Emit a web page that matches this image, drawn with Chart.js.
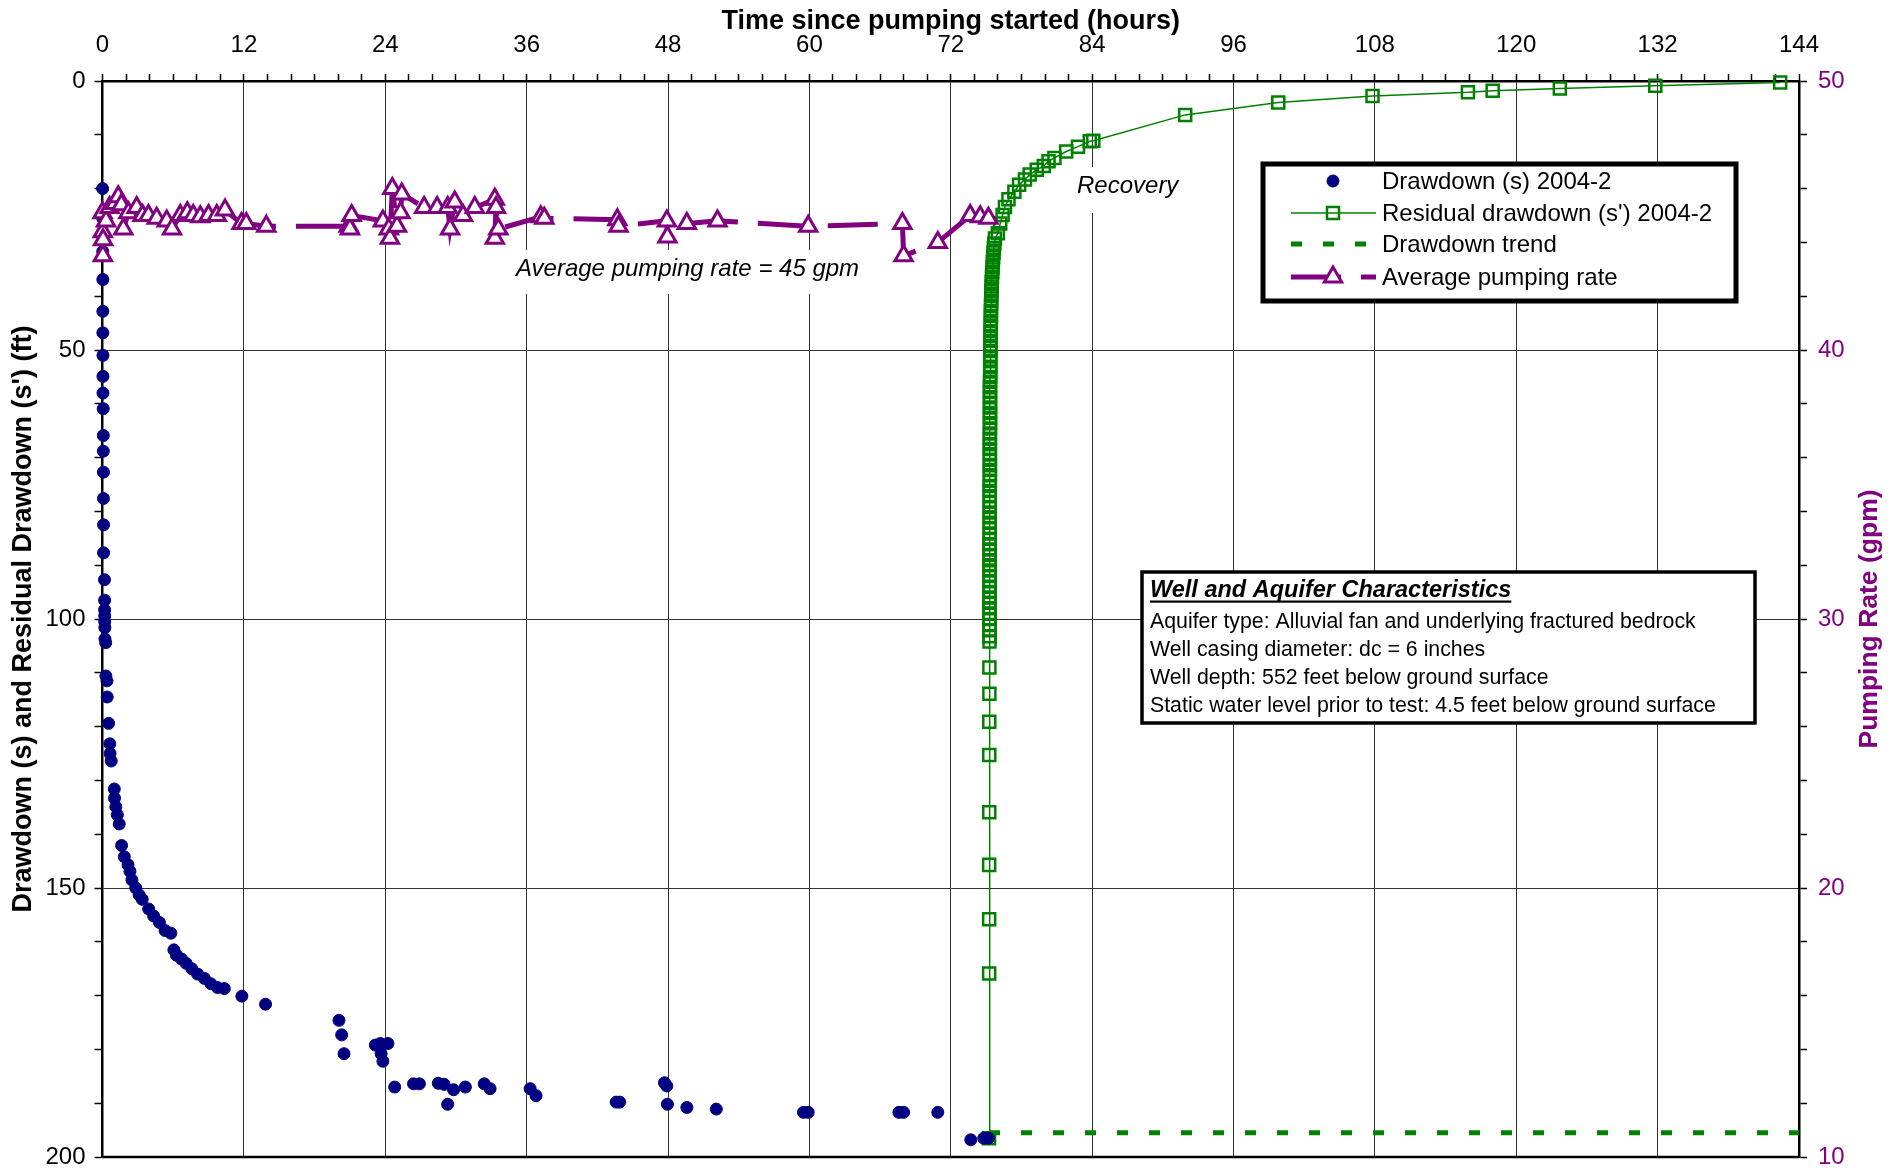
<!DOCTYPE html>
<html>
<head>
<meta charset="utf-8">
<title>Drawdown and recovery, well 2004-2</title>
<script src="https://cdn.jsdelivr.net/npm/chart.js@4.4.1/dist/chart.umd.min.js"></script>
<style>
  html, body { margin: 0; padding: 0; background: #fff; }
  #wrap { width: 1891px; height: 1171px; position: relative; }
</style>
</head>
<body>
<div id="wrap"><canvas id="chart" width="1891" height="1171"></canvas></div>
<script>
// ===== Data =====
// Drawdown (s) during pumping
const drawdownHours = [0.01, 0.02, 0.02, 0.03, 0.03, 0.03, 0.04, 0.04, 0.04, 0.06, 0.07, 0.07, 0.08, 0.08, 0.09, 0.09,
  0.17, 0.18, 0.18, 0.19, 0.19, 0.2, 0.21, 0.27, 0.29, 0.38, 0.4, 0.52, 0.62, 0.64, 0.74,
  1.0, 1.02, 1.13, 1.26, 1.42, 1.62, 1.85, 2.17, 2.33, 2.5, 2.82, 3.11, 3.37, 3.92, 4.34, 4.83, 5.31, 5.8, 6.06, 6.28,
  6.71, 7.1, 7.58, 8.07, 8.65, 9.2, 9.76, 10.34, 11.83, 13.84, 20.07, 20.3, 20.5, 23.16, 23.58, 23.65, 23.8, 24.23,
  24.8, 26.4, 26.9, 28.5, 29.0, 29.3, 29.8, 30.8, 32.4, 32.9, 36.3, 36.8, 43.6, 43.9, 47.7, 47.9, 47.95, 49.6, 52.1,
  59.5, 59.9, 67.6, 68.0, 70.9, 73.7, 74.8, 75.2];
const drawdownFeet = [20.0, 25.5, 31.7, 36.9, 42.8, 46.8, 51.0, 54.9, 58.0, 60.9, 65.9, 68.8, 72.7, 77.6, 82.5, 87.7,
  92.7, 96.5, 98.3, 99.4, 100.5, 101.6, 103.7, 104.4, 110.6, 111.5, 114.5, 119.4, 123.2, 125.0, 126.4,
  131.6, 133.3, 134.9, 136.4, 138.1, 142.1, 144.2, 145.7, 146.9, 148.5, 150.0, 151.3, 152.1, 153.9, 155.2, 156.4, 157.9,
  158.4, 161.5, 162.5, 163.2, 164.0, 165.0, 166.0, 166.8, 167.8, 168.5, 168.7, 170.1, 171.6, 174.6, 177.3, 180.8, 179.2,
  178.9, 180.8, 182.2, 178.9, 187.0, 186.4, 186.4, 186.3, 186.5, 190.2, 187.5, 187.0, 186.4, 187.3, 187.3, 188.6, 189.8,
  189.8, 186.2, 186.8, 190.2, 190.8, 191.1, 191.7, 191.7, 191.7, 191.7, 191.7, 196.8, 196.5, 196.5];

// Residual drawdown (s') during recovery
const residualHours = [75.25, 75.26, 75.26, 75.26, 75.27, 75.27, 75.27, 75.28, 75.28,
  75.29, 75.29, 75.29, 75.29, 75.29, 75.29, 75.29, 75.29, 75.29, 75.29,
  75.30, 75.30, 75.30, 75.30, 75.30, 75.30, 75.30, 75.30, 75.30, 75.30,
  75.31, 75.31, 75.31, 75.31, 75.31, 75.31, 75.31, 75.31, 75.31, 75.31,
  75.32, 75.32, 75.32, 75.32, 75.32, 75.32, 75.32, 75.32, 75.32, 75.32,
  75.33, 75.33, 75.33, 75.33, 75.33, 75.33, 75.33, 75.33, 75.33, 75.33,
  75.35, 75.35, 75.35, 75.35, 75.36, 75.36, 75.37, 75.37, 75.38, 75.38,
  75.40, 75.40, 75.41, 75.41, 75.42, 75.43, 75.44, 75.45, 75.47, 75.48,
  75.50, 75.52, 75.55, 75.57, 75.60, 75.63, 75.66, 75.70, 75.75,
  76.0, 76.2, 76.4, 76.6, 76.9, 77.4, 77.8, 78.3, 78.7, 79.3, 79.9, 80.3, 80.8, 81.8, 82.8, 83.8, 84.1,
  91.9, 99.8, 107.8, 115.9, 118.0, 123.7, 131.8, 142.4];
const residualFeet = [196.5, 165.9, 155.8, 145.7, 135.9, 125.3, 119.1, 113.9, 109.0,
  104.2, 103.2, 102.1, 101.1, 100.0, 99.0, 98.0, 97.0, 96.0, 95.0,
  94.0, 93.0, 92.0, 91.0, 90.0, 89.1, 88.1, 87.1, 86.1, 85.1,
  84.1, 83.1, 82.1, 81.1, 80.2, 79.2, 78.2, 77.2, 76.2, 75.3,
  74.3, 73.3, 72.3, 71.4, 70.4, 69.4, 68.4, 67.5, 66.5, 65.5,
  64.6, 63.6, 62.6, 61.7, 60.7, 59.8, 58.8, 57.8, 56.9, 55.9,
  55.0, 54.0, 53.1, 52.1, 51.2, 50.2, 49.3, 48.3, 47.4, 46.5,
  45.5, 44.6, 43.7, 42.8, 41.8, 40.9, 40.0, 39.1, 38.2, 37.3,
  36.4, 35.5, 34.6, 33.7, 32.8, 31.9, 31.1, 30.2, 29.3,
  28.3, 26.5, 24.9, 23.4, 22.0, 20.6, 19.3, 18.3, 17.4, 16.5, 15.8, 14.9, 14.3, 13.1, 12.2, 11.2, 11.1,
  6.3, 4.0, 2.8, 2.1, 1.8, 1.4, 0.9, 0.3];

// Drawdown trend
const trendHours = [75.25, 144];
const trendFeet = [195.5, 195.5];

// Average pumping rate (gpm)
const rateHours = [0.0, 0.02, 0.03, 0.05, 0.3, 0.6, 1.06, 1.34, 1.6, 1.77, 2.2, 2.9, 3.4, 3.9, 4.6, 5.45, 5.9, 6.6, 7.2,
  7.7, 8.3, 9.0, 9.7, 10.4, 11.8, 12.2, 13.9, 20.9, 21.0, 21.15, 23.8, 24.3, 24.4, 24.6, 25.0, 25.3, 25.4, 27.3, 28.4,
  29.3, 29.5, 29.9, 30.6, 31.6, 33.3, 33.3, 33.4, 33.6, 37.2, 37.5, 43.7, 43.8, 47.9, 47.95, 49.6, 52.2, 59.9, 67.9,
  68.0, 70.9, 73.65, 74.5, 75.2];
const rateGpm = [45.1, 44.4, 43.5, 44.1, 44.8, 45.3, 45.45, 45.7, 45.4, 44.5, 45.1, 45.3, 45.0, 45.0, 44.9, 44.8, 44.5,
  45.0, 45.1, 45.0, 44.95, 45.0, 45.0, 45.2, 44.7, 44.7, 44.6, 44.6, 44.5, 45.0, 44.8, 44.5, 44.15, 46.0, 44.6, 45.1,
  45.8, 45.3, 45.3, 45.3, 44.5, 45.5, 45.0, 45.3, 45.6, 44.15, 45.3, 44.5, 44.95, 44.9, 44.84, 44.6, 44.8, 44.2, 44.7,
  44.8, 44.6, 44.7, 43.5, 44.0, 45.0, 44.95, 44.9];

const infoLines = [
  'Aquifer type: Alluvial fan and underlying fractured bedrock',
  'Well casing diameter: dc = 6 inches',
  'Well depth: 552 feet below ground surface',
  'Static water level prior to test: 4.5 feet below ground surface'
];

// ===== Styles =====
const FONT = "'Liberation Sans', Arial, sans-serif";
const NAVY = '#000080';
const GREEN = '#008000';
const PURPLE = '#800080';

Chart.defaults.font.family = FONT;
Chart.defaults.color = '#000';

function toPoints(xs, ys) {
  return xs.map((x, i) => ({ x, y: ys[i] }));
}

// keep the plot frame where the reference has it (no label overhang padding)
function fixVertical(width) {
  return (s) => { s.width = width; s.paddingTop = 0; s.paddingBottom = 0; };
}

// ===== Overlay: annotations, frame, legend box, info box =====
function textWithBackground(ctx, text, x, baseline, top, bottom) {
  ctx.font = `italic 24px ${FONT}`;
  const w = ctx.measureText(text).width;
  ctx.fillStyle = '#fff';
  ctx.fillRect(x - 6, top, w + 12, bottom - top);
  ctx.fillStyle = '#000';
  ctx.textBaseline = 'alphabetic';
  ctx.fillText(text, x, baseline);
}

function drawLegendBox(chart) {
  const ctx = chart.ctx;
  const ds = chart.data.datasets;
  ctx.save();
  ctx.fillStyle = '#fff';
  ctx.fillRect(1263, 164, 473, 137);
  ctx.lineWidth = 5;
  ctx.strokeStyle = '#000';
  ctx.strokeRect(1263, 164, 473, 137);

  const rows = [181, 213, 244, 277];
  const order = [1, 2, 3, 0]; // drawdown, residual, trend, rate
  order.forEach((idx, r) => {
    const d = ds[idx];
    const y = rows[r];
    if (d.showLine) {
      ctx.save();
      ctx.beginPath();
      ctx.setLineDash(d.borderDash || []);
      ctx.lineWidth = d.borderWidth;
      ctx.strokeStyle = d.borderColor;
      ctx.moveTo(1291, y);
      ctx.lineTo(1376, y);
      ctx.stroke();
      ctx.restore();
    }
    if (d.pointRadius > 0) {
      ctx.save();
      ctx.setLineDash([]);
      ctx.fillStyle = d.pointBackgroundColor || d.backgroundColor;
      ctx.strokeStyle = d.pointBorderColor || d.borderColor;
      ctx.lineWidth = d.pointBorderWidth || 1;
      Chart.helpers.drawPoint(ctx, {
        pointStyle: d.pointStyle || 'circle',
        radius: d.pointRadius,
        borderWidth: d.pointBorderWidth || 1,
        rotation: 0
      }, 1333, y);
      ctx.restore();
    }
    ctx.fillStyle = '#000';
    ctx.font = `24px ${FONT}`;
    ctx.textBaseline = 'middle';
    ctx.fillText(d.label, 1382, y + 1);
  });
  ctx.restore();
}

function drawInfoBox(ctx) {
  ctx.save();
  ctx.fillStyle = '#fff';
  ctx.fillRect(1142, 572, 613, 151);
  ctx.lineWidth = 3.5;
  ctx.strokeStyle = '#000';
  ctx.strokeRect(1142, 572, 613, 151);

  ctx.fillStyle = '#000';
  ctx.textBaseline = 'alphabetic';
  ctx.font = `italic bold 23.5px ${FONT}`;
  const title = 'Well and Aquifer Characteristics';
  ctx.fillText(title, 1150, 597);
  const tw = ctx.measureText(title).width;
  ctx.fillRect(1150, 600.5, tw, 2.2);

  ctx.font = `21.3px ${FONT}`;
  const baselines = [628, 656, 684, 712];
  infoLines.forEach((line, i) => ctx.fillText(line, 1150, baselines[i]));
  ctx.restore();
}

// right-hand title reads bottom-to-top, like the left one
function drawRightTitle(chart) {
  const ctx = chart.ctx;
  const a = chart.chartArea;
  ctx.save();
  ctx.translate(1870, (a.top + a.bottom) / 2);
  ctx.rotate(-Math.PI / 2);
  ctx.font = `bold 26.5px ${FONT}`;
  ctx.fillStyle = PURPLE;
  ctx.textAlign = 'center';
  ctx.textBaseline = 'middle';
  ctx.fillText('Pumping Rate (gpm)', 0, 0);
  ctx.restore();
}

const overlayPlugin = {
  id: 'overlay',
  beforeDatasetsDraw(chart) {
    const ctx = chart.ctx;
    ctx.save();
    textWithBackground(ctx, 'Average pumping rate = 45 gpm', 516, 276, 250, 294);
    textWithBackground(ctx, 'Recovery', 1077, 193, 167, 213);
    ctx.restore();
  },
  afterDatasetsDraw(chart) {
    const ctx = chart.ctx;
    const a = chart.chartArea;
    ctx.save();
    ctx.strokeStyle = '#000';
    ctx.lineWidth = 2.5;
    ctx.beginPath();
    ctx.moveTo(a.left, a.bottom);
    ctx.lineTo(a.right, a.bottom);
    ctx.stroke();
    ctx.restore();
    drawLegendBox(chart);
    drawInfoBox(ctx);
    drawRightTitle(chart);
  }
};

// ===== Chart =====
const ctx = document.getElementById('chart').getContext('2d');

new Chart(ctx, {
  type: 'scatter',
  data: {
    datasets: [
      {
        label: 'Average pumping rate',
        data: toPoints(rateHours, rateGpm),
        yAxisID: 'y1',
        showLine: true,
        borderColor: PURPLE,
        borderWidth: 5,
        borderDash: [50, 20],
        pointStyle: 'triangle',
        pointRadius: 10,
        pointBorderWidth: 3,
        pointBorderColor: PURPLE,
        pointBackgroundColor: '#fff',
        backgroundColor: '#fff',
        clip: false,
        order: 0
      },
      {
        label: 'Drawdown (s) 2004-2',
        data: toPoints(drawdownHours, drawdownFeet),
        yAxisID: 'y',
        showLine: false,
        pointStyle: 'circle',
        pointRadius: 6,
        pointBorderWidth: 1,
        pointBorderColor: NAVY,
        pointBackgroundColor: NAVY,
        backgroundColor: NAVY,
        borderColor: NAVY,
        clip: false,
        order: 1
      },
      {
        label: "Residual drawdown (s') 2004-2",
        data: toPoints(residualHours, residualFeet),
        yAxisID: 'y',
        showLine: true,
        borderColor: GREEN,
        borderWidth: 1.5,
        pointStyle: 'rect',
        pointRadius: 8.5,
        pointBorderWidth: 2.5,
        pointBorderColor: GREEN,
        pointBackgroundColor: 'rgba(0,0,0,0)',
        backgroundColor: 'rgba(0,0,0,0)',
        clip: false,
        order: 2
      },
      {
        label: 'Drawdown trend',
        data: toPoints(trendHours, trendFeet),
        yAxisID: 'y',
        showLine: true,
        borderColor: GREEN,
        borderWidth: 5,
        borderDash: [11, 21],
        pointRadius: 0,
        clip: false,
        order: 3
      }
    ]
  },
  options: {
    responsive: false,
    animation: false,
    devicePixelRatio: 1,
    layout: { padding: { top: 0, left: 0, right: 0, bottom: 14 } },
    plugins: {
      legend: { display: false },
      tooltip: { enabled: false }
    },
    scales: {
      x: {
        type: 'linear',
        position: 'top',
        min: 0,
        max: 144,
        afterFit: (s) => { s.height = 81; s.paddingLeft = 0; s.paddingRight = 0; },
        title: {
          display: true,
          text: 'Time since pumping started (hours)',
          font: { size: 27, weight: 'bold' },
          color: '#000',
          padding: { top: 5, bottom: 0 }
        },
        ticks: {
          stepSize: 2,
          maxTicksLimit: 200,
          autoSkip: false,
          maxRotation: 0,
          padding: 14,
          font: { size: 24 },
          color: '#000',
          callback: (v) => (v % 12 === 0 ? v : '')
        },
        grid: {
          color: (c) => (c.tick && c.tick.value % 12 === 0 ? '#333' : 'rgba(0,0,0,0)'),
          lineWidth: 1,
          tickColor: '#000',
          tickLength: 7,
          tickWidth: 1.5
        },
        border: { color: '#000', width: 2.5 }
      },
      y: {
        type: 'linear',
        position: 'left',
        reverse: true,
        min: 0,
        max: 200,
        afterFit: fixVertical(102.5),
        title: {
          display: true,
          text: "Drawdown (s) and Residual Drawdown (s') (ft)",
          font: { size: 27, weight: 'bold' },
          color: '#000',
          padding: { top: 7, bottom: 0 }
        },
        ticks: {
          stepSize: 10,
          maxTicksLimit: 200,
          autoSkip: false,
          padding: 9,
          font: { size: 24 },
          color: '#000',
          callback: (v) => (v % 50 === 0 ? v : '')
        },
        grid: {
          color: (c) => (c.tick && c.tick.value % 50 === 0 ? '#333' : 'rgba(0,0,0,0)'),
          lineWidth: 1,
          tickColor: '#000',
          tickLength: 8,
          tickWidth: 1.5
        },
        border: { color: '#000', width: 2.5 }
      },
      y1: {
        type: 'linear',
        position: 'right',
        min: 10,
        max: 50,
        afterFit: fixVertical(92),
        title: { display: false },
        ticks: {
          stepSize: 2,
          maxTicksLimit: 200,
          autoSkip: false,
          padding: 11,
          font: { size: 24 },
          color: PURPLE,
          callback: (v) => (v % 10 === 0 ? v : '')
        },
        grid: {
          drawOnChartArea: false,
          tickColor: '#000',
          tickLength: 8,
          tickWidth: 1.5
        },
        border: { color: '#000', width: 2.5 }
      }
    }
  },
  plugins: [overlayPlugin]
});
</script>
</body>
</html>
